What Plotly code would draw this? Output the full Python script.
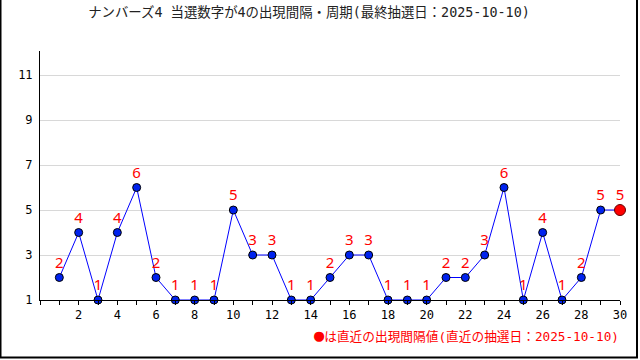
import plotly.graph_objects as go

draws = list(range(1, 31))
intervals = [2, 4, 1, 4, 6, 2, 1, 1, 1, 5, 3, 3, 1, 1, 2, 3, 3, 1, 1, 1, 2, 2, 3, 6, 1, 4, 1, 2, 5, 5]
y_ticks = [1, 3, 5, 7, 9, 11]
x_tick_labels = list(range(2, 31, 2))
title_text = "ナンバーズ4 当選数字が4の出現間隔・周期(最終抽選日：2025-10-10)"
note_mark = "●"
note_text = "は直近の出現間隔値(直近の抽選日：2025-10-10)"

FONT = "DejaVu Sans Mono, Noto Sans CJK JP, monospace"
LABEL_FONT = "Noto Sans, DejaVu Sans, sans-serif"

fig = go.Figure()
fig.add_trace(go.Scatter(
    x=draws, y=intervals, mode="lines+markers+text",
    line=dict(color="#0000ff", width=1),
    marker=dict(color="#0022ee", size=8, line=dict(color="#000000", width=1)),
    text=[str(v) for v in intervals], textposition="top center",
    textfont=dict(color="#ff0000", size=15, family=LABEL_FONT),
    cliponaxis=False, showlegend=False, hoverinfo="skip"))
fig.add_trace(go.Scatter(
    x=[draws[-1]], y=[intervals[-1]], mode="markers",
    marker=dict(color="#ff0000", size=11, line=dict(color="#660000", width=1)),
    cliponaxis=False, showlegend=False, hoverinfo="skip"))

L, R, T, B = 40, 20, 51, 60
W, H = 640, 360
pw, ph = W - L - R, H - T - B

def px(xp):
    return (xp - L) / pw

def py(yp):
    return (H - B - yp) / ph

fig.update_layout(
    width=W, height=H, margin=dict(l=L, r=R, t=T, b=B),
    paper_bgcolor="white", plot_bgcolor="white",
    font=dict(family=FONT, size=12, color="#000000"),
    title=dict(text=title_text, x=309 / W, xanchor="center", y=1 - 12 / H, yanchor="middle",
               font=dict(size=13.4, color="#222222", family=FONT)),
    xaxis=dict(range=[0, 30], tickmode="array", tickvals=x_tick_labels,
               ticktext=[str(v) for v in x_tick_labels],
               showgrid=False, zeroline=False, showline=True, linecolor="#000000", linewidth=1,
               ticks="outside", ticklen=4, tickcolor="#000000",
               minor=dict(tickmode="linear", tick0=0, dtick=1, ticks="outside", ticklen=4, tickcolor="#000000"),
               tickfont=dict(size=12, family=FONT)),
    yaxis=dict(range=[1, 12.07], tickmode="array", tickvals=y_ticks,
               ticktext=[str(v) for v in y_ticks],
               showgrid=True, gridcolor="#d8d8d8", gridwidth=1, zeroline=False,
               showline=True, linecolor="#000000", linewidth=1, ticks="", ticklabelstandoff=4,
               tickfont=dict(size=12, family=FONT)),
    annotations=[dict(text='<span style="font-size:17px">' + note_mark + '</span>' + note_text,
                      xref="paper", yref="paper", x=px(621), y=py(335),
                      xanchor="right", yanchor="middle", showarrow=False,
                      font=dict(color="#ff0000", size=12.7, family=FONT))],
    shapes=[
        dict(type="line", xref="paper", yref="paper", x0=px(0.5), x1=px(0.5), y0=py(0), y1=py(358), line=dict(color="#000000", width=2)),
        dict(type="line", xref="paper", yref="paper", x0=px(637), x1=px(637), y0=py(0), y1=py(358), line=dict(color="#000000", width=2)),
        dict(type="line", xref="paper", yref="paper", x0=px(0), x1=px(638), y0=py(357.5), y1=py(357.5), line=dict(color="#000000", width=2)),
    ],
)

fig.write_html("out.html", config={"displayModeBar": False, "staticPlot": True},
               post_script="document.body.style.margin='0';document.body.style.overflow='hidden';")
